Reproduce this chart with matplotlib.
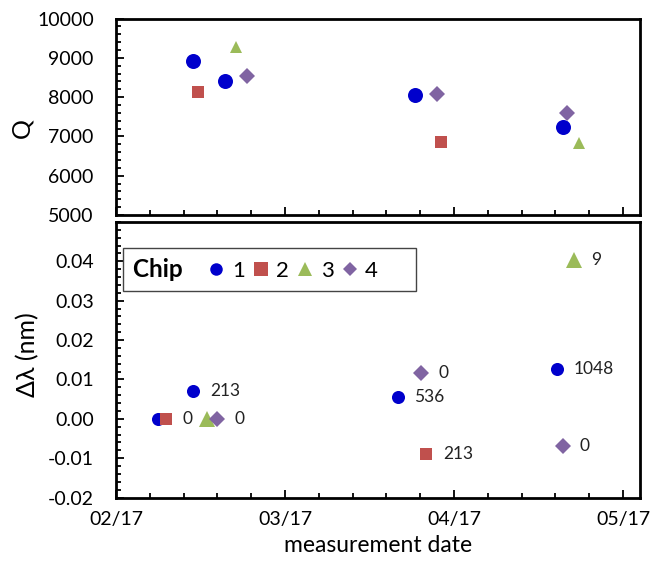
import matplotlib
matplotlib.use('Agg')
import matplotlib.pyplot as plt
from matplotlib.lines import Line2D
from matplotlib.offsetbox import DrawingArea
from matplotlib.ticker import MultipleLocator, FixedLocator, FormatStrFormatter, NullFormatter

plt.rcParams['font.family'] = ['Lato', 'DejaVu Sans']
plt.rcParams['axes.unicode_minus'] = False

# chips and their styles
chips = ['1', '2', '3', '4']
colors = ['#0000cc', '#c0504d', '#9bbb59', '#8064a2']
markers = ['o', 's', '^', 'D']

# quality factor vs. measurement day (days after 02/17 tick)
q_days = [[13.7, 19.3, 53.0, 79.3], [14.6, 57.6], [21.3, 82.1], [23.2, 56.9, 80.1]]
q_values = [[8920, 8420, 8060, 7240], [8130, 6850], [9270, 6820], [8545, 8080, 7600]]

# resonance shift vs. measurement day, with point labels
shift_days = [[7.4, 13.7, 50.0, 78.2], [8.8, 55.1], [16.1, 81.3], [18.0, 54.2, 79.3]]
shift_nm = [[0.0, 0.0071, 0.0055, 0.0126], [0.0, -0.0089], [0.0, 0.0403], [0.0, 0.0116, -0.0068]]
shift_labels = [['', '213', '536', '1048'], ['0', '213'], ['', '9'], ['0', '0', '0']]

month_ticks = [0, 30, 60, 90]
month_labels = ['02/17', '03/17', '04/17', '05/17']
shift_ticks = [-0.02, -0.01, 0.0, 0.01, 0.02, 0.03, 0.04]

# marker sizes per panel (o, s, ^, D)
top_sizes = [10.8, 8.4, 8.8, 8.0]
bot_sizes = [9.4, 9.0, 11.4, 7.8]
leg_sizes = [9.0, 9.6, 10.0, 7.6]

fig = plt.figure(figsize=(6.54, 5.71), dpi=100)
ax1 = fig.add_axes([0.1774, 0.6235, 0.8012, 0.3441])
ax2 = fig.add_axes([0.1774, 0.1287, 0.8012, 0.4825])

for i in range(len(chips)):
    ax1.plot(q_days[i], q_values[i], linestyle='none', marker=markers[i],
             color=colors[i], markersize=top_sizes[i], markeredgewidth=0)
    ax2.plot(shift_days[i], shift_nm[i], linestyle='none', marker=markers[i],
             color=colors[i], markersize=bot_sizes[i], markeredgewidth=0)
    for x, y, lbl in zip(shift_days[i], shift_nm[i], shift_labels[i]):
        if lbl:
            ax2.annotate(lbl, (x, y), xytext=(12, 0), textcoords='offset points',
                         ha='left', va='center', fontsize=12.5, color='#222222')

for ax in (ax1, ax2):
    ax.set_xlim(0, 93)
    ax.xaxis.set_major_locator(FixedLocator(month_ticks))
    ax.xaxis.set_minor_locator(MultipleLocator(6))
    ax.tick_params(which='both', direction='in', top=False, right=False,
                   width=1.3, labelsize=14, colors='black')
    ax.tick_params(which='major', length=5.5)
    ax.tick_params(which='minor', length=3.5)
    ax.tick_params(axis='y', pad=16)
    ax.tick_params(axis='x', pad=10)
    for s in ax.spines.values():
        s.set_linewidth(2)

ax1.set_ylim(5000, 10000)
ax1.yaxis.set_major_locator(MultipleLocator(1000))
ax1.yaxis.set_minor_locator(MultipleLocator(200))
ax1.xaxis.set_major_formatter(NullFormatter())
ax1.set_ylabel('Q', fontsize=18)
ax1.yaxis.set_label_coords(-0.158, 0.443)

ax2.set_ylim(-0.02, 0.05)
ax2.yaxis.set_major_locator(FixedLocator(shift_ticks))
ax2.yaxis.set_minor_locator(MultipleLocator(0.002))
ax2.yaxis.set_major_formatter(FormatStrFormatter('%.2f'))
ax2.set_xticklabels(month_labels)
ax2.set_ylabel('Δλ (nm)', fontsize=18)
ax2.yaxis.set_label_coords(-0.147, 0.517)
ax2.set_xlabel('measurement date', fontsize=16.5, labelpad=5)

# legend with "Chip" to the left of the entries
handles = [Line2D([], [], linestyle='none', marker=m, color=c, markersize=s, markeredgewidth=0)
           for m, c, s in zip(markers, colors, leg_sizes)]
leg = ax2.legend(handles, chips, ncol=4, loc='upper left', bbox_to_anchor=(0.0134, 0.9056),
                 borderaxespad=0, handlelength=0.8, handletextpad=0.3, columnspacing=0.32,
                 fontsize=16, title='Chip   ', title_fontproperties={'weight': 'bold', 'size': 17.5},
                 frameon=True, fancybox=False, edgecolor='#444444', framealpha=1, borderpad=0.45)
leg.get_frame().set_linewidth(1.0)
box = leg.get_children()[0]
title_box = box.get_children()[0]
hpack = box.get_children()[1]
box._children = [hpack]
hpack._children = [title_box] + hpack.get_children() + [DrawingArea(15, 1)]

fig.savefig('out.png', dpi=100)
